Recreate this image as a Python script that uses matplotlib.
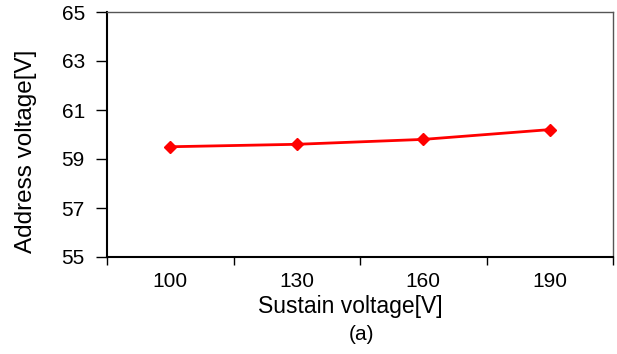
import matplotlib
matplotlib.use('Agg')
import matplotlib.pyplot as plt
import numpy as np

plt.rcParams['font.family'] = ['Liberation Sans', 'DejaVu Sans']

sustain = ['100', '130', '160', '190']
address = [59.5, 59.6, 59.8, 60.2]
yticks = [55, 57, 59, 61, 63, 65]

fig = plt.figure(figsize=(6.17, 3.54), dpi=100)
ax = fig.add_axes([107/617, 1 - 257/354, (613 - 107)/617, (257 - 12)/354])

x = np.arange(len(sustain))
ax.plot(x, address, color='#ff0000', lw=2, marker='D', ms=6.5, mec='#ff0000', mfc='#ff0000')

ax.set_xlim(-0.5, len(sustain) - 0.5)
ax.set_ylim(55, 65)
ax.set_yticks(yticks)
ax.set_xticks(x)
ax.set_xticklabels(sustain)
ax.set_xticks(np.arange(-0.5, len(sustain)), minor=True)
ax.tick_params(axis='x', which='major', length=0, labelsize=15, pad=11)
ax.tick_params(axis='x', which='minor', length=6, width=1, direction='out')
ax.tick_params(axis='y', length=8, width=1, direction='out', labelsize=15, pad=8)

for s in ['left', 'bottom']:
    ax.spines[s].set_linewidth(1.5)
    ax.spines[s].set_color('black')
for s in ['top', 'right']:
    ax.spines[s].set_linewidth(1)
    ax.spines[s].set_color('#555555')

fig.text(26/617, 1 - 151/354, 'Address voltage[V]', fontsize=17.5, rotation=90,
         ha='center', va='center')
fig.text(350/617, 1 - 307/354, 'Sustain voltage[V]', fontsize=16.5, ha='center', va='center')
fig.text(361/617, 1 - 334/354, '(a)', fontsize=15, ha='center', va='center')

plt.savefig('out.png', dpi=100)
